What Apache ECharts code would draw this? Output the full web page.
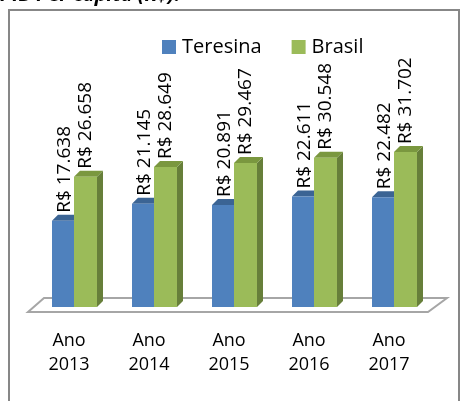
<!DOCTYPE html>
<html>
<head>
<meta charset="utf-8">
<script src="https://cdn.jsdelivr.net/npm/echarts@6/dist/echarts.min.js"></script>
<style>
  html, body { margin: 0; padding: 0; background: #fff; }
  #chart { width: 465px; height: 401px; }
</style>
</head>
<body>
<div id="chart"></div>
<script>
// PIB per capita, Teresina x Brasil (R$)
const categories = ['Ano\n2013', 'Ano\n2014', 'Ano\n2015', 'Ano\n2016', 'Ano\n2017'];
const teresina = [17638, 21145, 20891, 22611, 22482];
const brasil   = [26658, 28649, 29467, 30548, 31702];

const FONT = '"Open Sans", "Noto Sans", sans-serif';
const DX = 6, DY = -6;   // bar depth

function brl(v) {
    return 'R$ ' + String(v).replace(/\B(?=(\d{3})+(?!\d))/g, '.');
}

// front / side / top colours, front x-range relative to category centre, label offset
function bar3d(front, side, top, x0off, x1off, labelOff) {
    return function (params, api) {
        const p = api.coord([api.value(0), api.value(1)]);
        const base = api.coord([api.value(0), 0]);
        const x0 = p[0] + x0off, x1 = p[0] + x1off;
        const yt = p[1], yb = base[1];
        return {
            type: 'group',
            children: [
                { type: 'polygon', shape: { points: [[x1, yt], [x1 + DX, yt + DY], [x1 + DX, yb + DY], [x1, yb]] },
                  style: { fill: side } },
                { type: 'polygon', shape: { points: [[x0, yt], [x0 + DX, yt + DY], [x1 + DX, yt + DY], [x1, yt]] },
                  style: { fill: top } },
                { type: 'rect', shape: { x: x0, y: yt, width: x1 - x0, height: yb - yt },
                  style: { fill: front } },
                { type: 'text', x: p[0] + labelOff, y: yt - 8, rotation: Math.PI / 2,
                  style: { text: brl(api.value(1)), align: 'left', verticalAlign: 'middle',
                           fill: '#000', font: '19px ' + FONT } }
            ]
        };
    };
}

const chart = echarts.init(document.getElementById('chart'));
chart.setOption({
    animation: false,
    backgroundColor: '#ffffff',
    graphic: [
        { type: 'text', left: 0, top: -15,
          style: { text: 'PIB Per capita (R$):', fill: '#000', font: 'italic bold 20px ' + FONT } },
        { type: 'rect', shape: { x: 9, y: 10, width: 450, height: 400 },
          style: { fill: 'none', stroke: '#878787', lineWidth: 2 }, z: -1 }
    ],
    legend: {
        data: ['Teresina', 'Brasil'],
        left: 157, top: 32,
        icon: 'rect', itemWidth: 14, itemHeight: 14, itemGap: 30,
        textStyle: { fontFamily: FONT, fontSize: 20, color: '#000', padding: [0, 0, 0, 1] }
    },
    grid: { left: 29, right: 36, top: 136, bottom: 94 },
    xAxis: {
        type: 'category',
        data: categories,
        axisLine: { show: false },
        axisTick: { show: false },
        axisLabel: { margin: 22, fontFamily: FONT, fontSize: 18, lineHeight: 24, color: '#000' }
    },
    yAxis: { type: 'value', min: 0, max: 35000, show: false, splitLine: { show: false } },
    series: [
        {
            type: 'custom',
            silent: true,
            data: [[0, 0]],
            renderItem: function (params, api) {
                const cs = params.coordSys;
                const y0 = cs.y + cs.height;
                return {
                    type: 'polygon',
                    shape: { points: [[cs.x - 1, y0 + 5], [cs.x + 15, y0 - 9],
                                      [cs.x + cs.width + 18, y0 - 9], [cs.x + cs.width - 1, y0 + 5]] },
                    style: { fill: '#ffffff', stroke: '#a6a6a6', lineWidth: 2 }
                };
            }
        },
        {
            name: 'Teresina',
            type: 'custom',
            itemStyle: { color: '#4f81bd' },
            data: teresina.map((v, i) => [i, v]),
            encode: { x: 0, y: 1 },
            renderItem: bar3d('#4f81bd', '#385d8a', '#3b6494', -17, 5, -4)
        },
        {
            name: 'Brasil',
            type: 'custom',
            itemStyle: { color: '#9bbb59' },
            data: brasil.map((v, i) => [i, v]),
            encode: { x: 0, y: 1 },
            renderItem: bar3d('#9bbb59', '#677f3a', '#7a973f', 5, 28, 17)
        }
    ]
});
</script>
</body>
</html>
